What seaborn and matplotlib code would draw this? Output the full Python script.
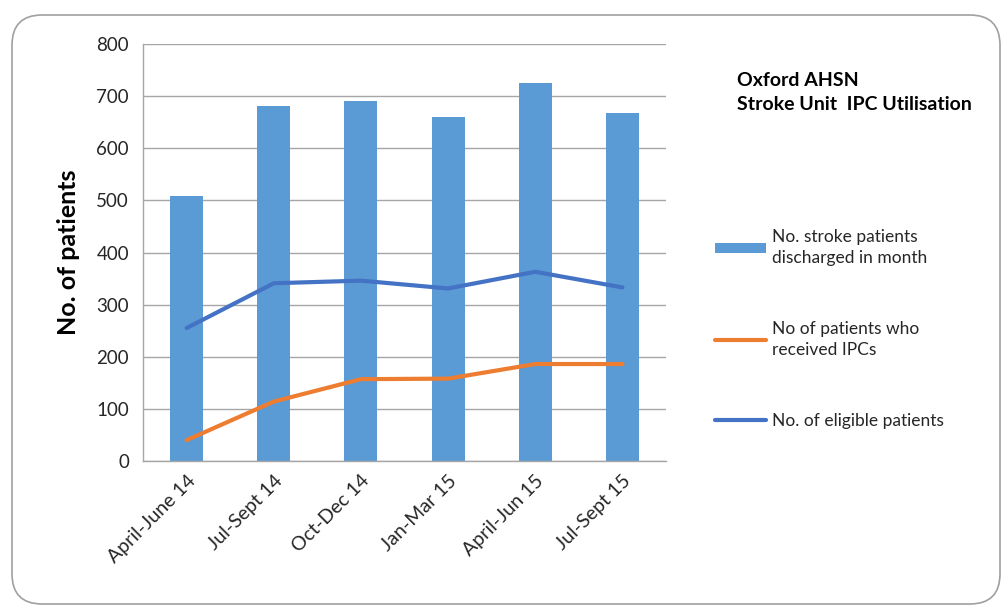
import numpy as np
import pandas as pd
import matplotlib
matplotlib.use("Agg")
import matplotlib.pyplot as plt
from matplotlib.patches import FancyBboxPatch, Patch
from matplotlib.lines import Line2D
import seaborn as sns

categories = ["April-June 14", "Jul-Sept 14", "Oct-Dec 14", "Jan-Mar 15", "April-Jun 15", "Jul-Sept 15"]
discharged = [509, 681, 691, 660, 725, 667]
received_ipc = [40, 114, 157, 158, 186, 186]
eligible = [255, 341, 346, 331, 363, 333]

bar_label = "No. stroke patients\ndischarged in month"
ipc_label = "No of patients who\nreceived IPCs"
elig_label = "No. of eligible patients"

sns.set_theme(style="white")
plt.rcParams['font.family'] = ['Lato', 'DejaVu Sans']

BAR_C = "#5B9BD5"
ORANGE = "#ED7D31"
BLUE = "#4472C4"
GRID = "#A6A6A6"
TXT = "#262626"

fig = plt.figure(figsize=(10.04, 6.08), dpi=100)
ax = fig.add_axes([143/1004, 1-461/608, (666-143)/1004, (461-44)/608])

df = pd.DataFrame({"cat": categories, "discharged": discharged,
                   "ipc": received_ipc, "elig": eligible})
df["pos"] = np.arange(len(categories))

sns.barplot(data=df, x="cat", y="discharged", color=BAR_C, width=0.38,
            saturation=1, ax=ax, zorder=2, linewidth=0)
sns.lineplot(data=df, x="pos", y="ipc", color=ORANGE, linewidth=3, ax=ax, zorder=3)
sns.lineplot(data=df, x="pos", y="elig", color=BLUE, linewidth=3, ax=ax, zorder=3)

ax.set_xlim(-0.5, len(categories) - 0.5)
ax.set_ylim(0, 800)
ax.set_yticks(np.arange(0, 801, 100))
ax.yaxis.grid(True, color=GRID, linewidth=1, zorder=0)
ax.set_axisbelow(True)
ax.set_xticks(np.arange(len(categories)))
ax.set_xticklabels(categories, rotation=45, ha="right", rotation_mode="anchor",
                   fontsize=14, color=TXT)
ax.set_xticks(np.arange(-0.5, len(categories)), minor=True)
ax.tick_params(axis="x", which="major", length=0, pad=8)
ax.tick_params(axis="x", which="minor", length=6, color=GRID, width=1, direction="out")
ax.tick_params(axis="y", length=6, color=GRID, width=1, direction="out", labelsize=13.5,
               labelcolor=TXT, pad=4)
for s in ["top", "right"]:
    ax.spines[s].set_visible(False)
for s in ["left", "bottom"]:
    ax.spines[s].set_color(GRID)
    ax.spines[s].set_linewidth(1)
ax.set_xlabel("")
ax.set_ylabel("No. of patients", fontsize=18, fontweight="bold", color="black", labelpad=12)

fig.text(737/1004, 1-72/608, "Oxford AHSN\nStroke Unit  IPC Utilisation",
         fontsize=14, fontweight="bold", color="black", va="top", ha="left", linespacing=1.5)

handles = [Patch(facecolor=BAR_C, edgecolor="none"),
           Line2D([0], [0], color=ORANGE, linewidth=3),
           Line2D([0], [0], color=BLUE, linewidth=3)]
leg = fig.legend(handles, [bar_label, ipc_label, elig_label], loc="upper left",
                 bbox_to_anchor=(708/1004, 1-222/608), frameon=False, fontsize=12.5,
                 handlelength=2.93, handleheight=0.5, handletextpad=0.35, labelspacing=3.15,
                 borderaxespad=0, labelcolor=TXT)
for t in leg.get_texts():
    t.set_linespacing(1.4)

border = FancyBboxPatch((12/1004, 1-604/608), (1000-12)/1004, (604-15)/608,
                        boxstyle="round,pad=0,rounding_size=0.03",
                        transform=fig.transFigure, facecolor="none", edgecolor="#A0A0A0",
                        linewidth=1.2, mutation_aspect=1004/608)
fig.patches.append(border)

fig.savefig("out.png", dpi=100, facecolor="white")
